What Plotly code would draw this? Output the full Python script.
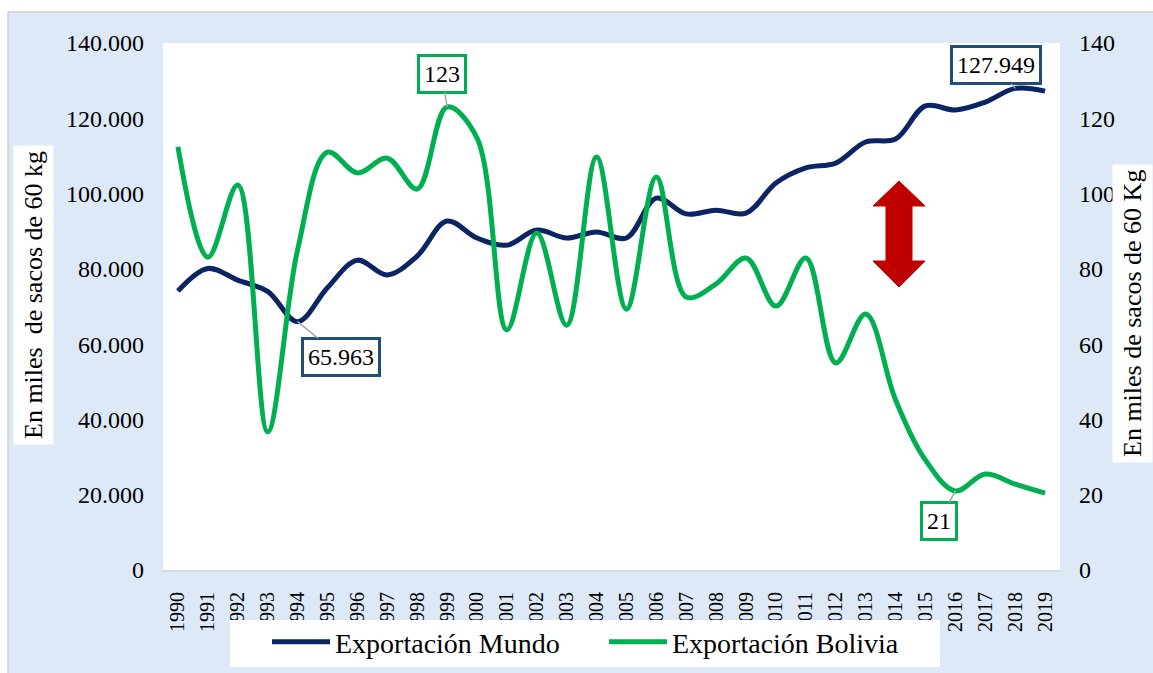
import plotly.graph_objects as go

years = [str(y) for y in range(1990, 2020)]
mundo = [74100, 80100, 77000, 74000, 65963, 75000, 82300, 78400, 83400, 92700,
         88200, 86300, 90300, 88200, 89800, 88200, 98800, 94600, 95600, 94800,
         102800, 106800, 108100, 113700, 114500, 123300, 122200, 124300, 127949, 127200]
bolivia = [112.4, 83.1, 102.3, 36.7, 85.0, 111.0, 105.5, 109.4, 101.2, 123.0,
           114.8, 63.8, 89.5, 65.0, 109.7, 69.3, 104.4, 72.5, 76.0, 82.9,
           70.1, 82.9, 55.0, 68.0, 45.2, 29.2, 21.0, 25.5, 22.8, 20.4]
left_ticks = [0, 20000, 40000, 60000, 80000, 100000, 120000, 140000]
right_ticks = [0, 20, 40, 60, 80, 100, 120, 140]

W, H = 1153, 673
L, R, T, B = 163, 1060, 43, 570
FONT = "Liberation Serif, Times New Roman, serif"
NAVY = "#0b2463"
GREEN = "#00b050"


def px(x):
    return (x - L) / (R - L)


def py(y):
    return (B - y) / (B - T)


fig = go.Figure()
fig.add_trace(go.Scatter(x=years, y=mundo, name="Exportación Mundo", mode="lines",
                         line=dict(color=NAVY, width=5, shape="spline", smoothing=1.0),
                         yaxis="y"))
fig.add_trace(go.Scatter(x=years, y=bolivia, name="Exportación Bolivia", mode="lines",
                         line=dict(color=GREEN, width=5, shape="spline", smoothing=1.0),
                         yaxis="y2"))

shapes = [
    dict(type="rect", xref="paper", yref="paper", layer="below",
         x0=px(8), x1=px(1160), y0=py(12), y1=py(680),
         fillcolor="#dde9f6", line=dict(color="#d0d0d0", width=1.5)),
    dict(type="rect", xref="paper", yref="paper", layer="below",
         x0=0, x1=1, y0=0, y1=1, fillcolor="white", line=dict(width=0)),
    # legend box
    dict(type="rect", xref="paper", yref="paper", layer="above",
         x0=px(230), x1=px(940), y0=py(620), y1=py(667),
         fillcolor="white", line=dict(width=0)),
]
arrow_pts = [(899, 181), (925, 206), (912, 206), (912, 261), (925, 261), (899, 287),
             (873, 261), (886, 261), (886, 206), (873, 206)]
path = "M " + " L ".join(f"{px(a):.5f},{py(b):.5f}" for a, b in arrow_pts) + " Z"
shapes.append(dict(type="path", xref="paper", yref="paper", path=path,
                   fillcolor="#c00000", line=dict(color="#c00000", width=1)))

ann_font = dict(family=FONT, size=24, color="black")


def label(year, value, yref, text, ax, ay, border):
    return dict(x=years.index(year), y=value, xref="x", yref=yref, text=text, ax=ax, ay=ay,
                showarrow=True, arrowhead=0, arrowcolor="#a6a6a6", arrowwidth=1.5,
                bgcolor="white", bordercolor=border, borderwidth=3, borderpad=4,
                font=ann_font)


annotations = [
    label("1999", bolivia[years.index("1999")], "y2", "123", -5, -33, GREEN),
    label("2018", mundo[years.index("2018")], "y", "127.949", -19, -23, "#1f4e79"),
    label("1994", mundo[years.index("1994")], "y", "65.963", 43, 35, "#1f4e79"),
    label("2016", bolivia[years.index("2016")], "y2", "21", -16, 30, GREEN),
    dict(x=px(33), y=py(295), xref="paper", yref="paper", text="En miles  de sacos de 60 kg",
         xanchor="center", yanchor="middle",
         textangle=-90, showarrow=False, bgcolor="white", borderpad=5,
         font=dict(family=FONT, size=26, color="black")),
    dict(x=px(1133), y=py(314), xref="paper", yref="paper", text="En miles de sacos de 60 Kg",
         xanchor="center", yanchor="middle",
         textangle=-90, showarrow=False, bgcolor="white", borderpad=5,
         font=dict(family=FONT, size=26, color="black")),
]

fig.update_layout(
    width=W, height=H,
    margin=dict(l=L, r=W - R, t=T, b=H - B, pad=0, autoexpand=False),
    paper_bgcolor="white", plot_bgcolor="rgba(0,0,0,0)",
    separators=",.",
    font=dict(family=FONT, color="black"),
    showlegend=True,
    legend=dict(orientation="h", x=px(267), xanchor="left", y=py(617), yanchor="top",
                bgcolor="rgba(0,0,0,0)", font=dict(family=FONT, size=28, color="black"),
                entrywidth=264, entrywidthmode="pixels", itemwidth=58),
    xaxis=dict(type="category", range=[-0.5, len(years) - 0.5], showgrid=False,
               showline=True, linecolor="#d9d9d9", automargin=False,
               linewidth=2, tickangle=-90, tickfont=dict(family=FONT, size=20, color="black"),
               ticks="", ticklabelstandoff=12, zeroline=False),
    yaxis=dict(range=[0, 140000], tickvals=left_ticks, tickformat=",.0f", showgrid=False,
               zeroline=False, showline=False, ticks="", ticklabelstandoff=18, automargin=False,
               tickfont=dict(family=FONT, size=24, color="black")),
    yaxis2=dict(range=[0, 140], tickvals=right_ticks, overlaying="y", side="right",
                showgrid=False, zeroline=False, showline=False, ticks="", ticklabelstandoff=18,
                automargin=False, tickfont=dict(family=FONT, size=24, color="black")),
    shapes=shapes,
    annotations=annotations,
)

fig.write_html("out.html", post_script="document.body.style.margin='0';",
               config={"displayModeBar": False})
